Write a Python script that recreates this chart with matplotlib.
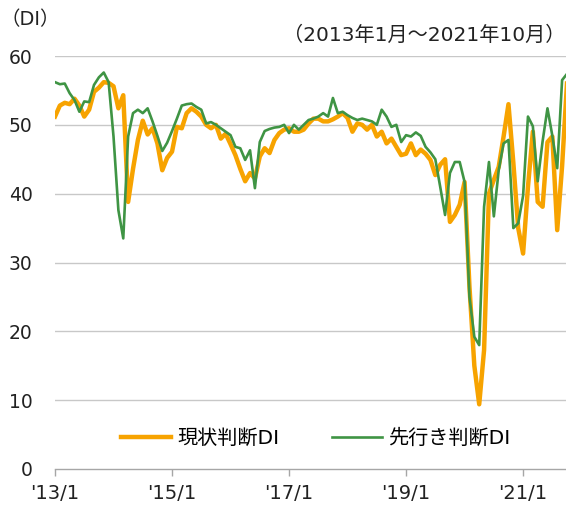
import matplotlib
matplotlib.use("Agg")
import matplotlib.pyplot as plt
import numpy as np

plt.rcParams['font.family'] = ['DejaVu Sans', 'Noto Sans CJK JP']

# 2013/1 - 2021/10, monthly
genjo = [51.2, 52.8, 53.2, 53.0, 53.8, 52.8, 51.2, 52.2, 54.8, 55.4, 56.2, 56.1,
         55.6, 52.4, 54.3, 38.8, 43.6, 47.8, 50.6, 48.6, 49.5, 47.3, 43.4, 45.2,
         46.1, 49.7, 49.5, 51.7, 52.4, 51.9, 51.2, 50.0, 49.5, 50.0, 48.0, 48.7,
         47.2, 45.6, 43.6, 41.8, 43.0, 42.2, 45.4, 46.6, 45.9, 47.8, 48.8, 49.3,
         49.5, 49.0, 49.0, 49.3, 50.2, 50.9, 50.9, 50.5, 50.5, 50.8, 51.2, 51.7,
         51.0, 49.0, 50.2, 50.0, 49.3, 50.0, 48.3, 49.0, 47.3, 48.0, 46.8, 45.6,
         45.8, 47.3, 45.6, 46.4, 45.8, 44.9, 42.7, 44.2, 45.0, 35.9, 36.9, 38.4,
         41.7, 26.5, 15.0, 9.4, 17.3, 40.0, 42.0, 43.9, 48.3, 53.0, 44.5, 35.0,
         31.3, 41.0, 49.0, 38.8, 38.1, 47.5, 48.3, 34.7, 44.0, 56.0]
sakiyuki = [56.2, 55.9, 56.0, 54.6, 53.6, 51.9, 53.4, 53.3, 55.8, 56.9, 57.6, 56.2,
            48.3, 37.6, 33.5, 48.3, 51.7, 52.2, 51.7, 52.4, 50.5, 48.4, 46.2, 47.4,
            49.1, 50.9, 52.8, 53.0, 53.1, 52.6, 52.2, 50.2, 50.4, 50.0, 49.5, 49.0,
            48.5, 46.8, 46.6, 44.9, 46.3, 40.8, 47.5, 49.1, 49.4, 49.6, 49.7, 50.0,
            48.8, 50.0, 49.3, 50.0, 50.7, 50.9, 51.2, 51.7, 51.2, 53.9, 51.7, 51.9,
            51.4, 51.0, 50.7, 50.9, 50.7, 50.5, 50.0, 52.2, 51.2, 49.7, 50.0, 47.5,
            48.5, 48.3, 48.9, 48.4, 46.8, 46.0, 45.0, 41.0, 36.9, 43.0, 44.6, 44.6,
            41.7, 25.0, 19.2, 18.0, 38.1, 44.6, 36.7, 43.4, 47.3, 47.8, 35.0, 35.7,
            39.7, 51.2, 49.8, 41.8, 47.6, 52.4, 48.4, 43.7, 56.5, 57.4]
xtick_pos = [0, 24, 48, 72, 96]
xtick_labels = ["'13/1", "'15/1", "'17/1", "'19/1", "'21/1"]

months = np.arange(len(genjo))

fig = plt.figure(figsize=(5.66, 5.08), dpi=100)
ax = fig.add_axes([55/566, 39/508, 511/566, 413/508])

for v in range(10, 70, 10):
    ax.axhline(v, color='#C8C8C8', lw=1.0, zorder=1)

ax.plot(months, genjo, color='#F7A300', lw=3.2, label='現状判断DI', zorder=3)
ax.plot(months, sakiyuki, color='#3F9444', lw=1.9, label='先行き判断DI', zorder=4)

ax.set_xlim(0, 104.8)
ax.set_ylim(0, 60)
for s in ['top', 'right', 'left']:
    ax.spines[s].set_visible(False)
ax.spines['bottom'].set_color('#A6A6A6')
ax.spines['bottom'].set_linewidth(1.0)

ax.set_yticks(range(0, 70, 10))
ax.tick_params(axis='y', length=0, pad=16, labelsize=13.5, labelcolor='#222222')
ax.set_xticks(xtick_pos)
ax.set_xticklabels(xtick_labels)
ax.tick_params(axis='x', length=5, width=1, color='#A6A6A6', pad=6,
               labelsize=14, labelcolor='#222222')

ax.legend(loc='center', bbox_to_anchor=(0.51, 0.075), ncol=2, frameon=False,
          fontsize=14.5, handlelength=2.5, handletextpad=0.3, columnspacing=2.6)

fig.text(1/566, 1 - 20/508, '（DI）', fontsize=14, va='center', ha='left', color='#222222')
fig.text(565/566, 1 - 35/508, '（2013年1月～2021年10月）', fontsize=14.5,
         va='center', ha='right', color='#222222')

fig.savefig('out.png', dpi=100)
